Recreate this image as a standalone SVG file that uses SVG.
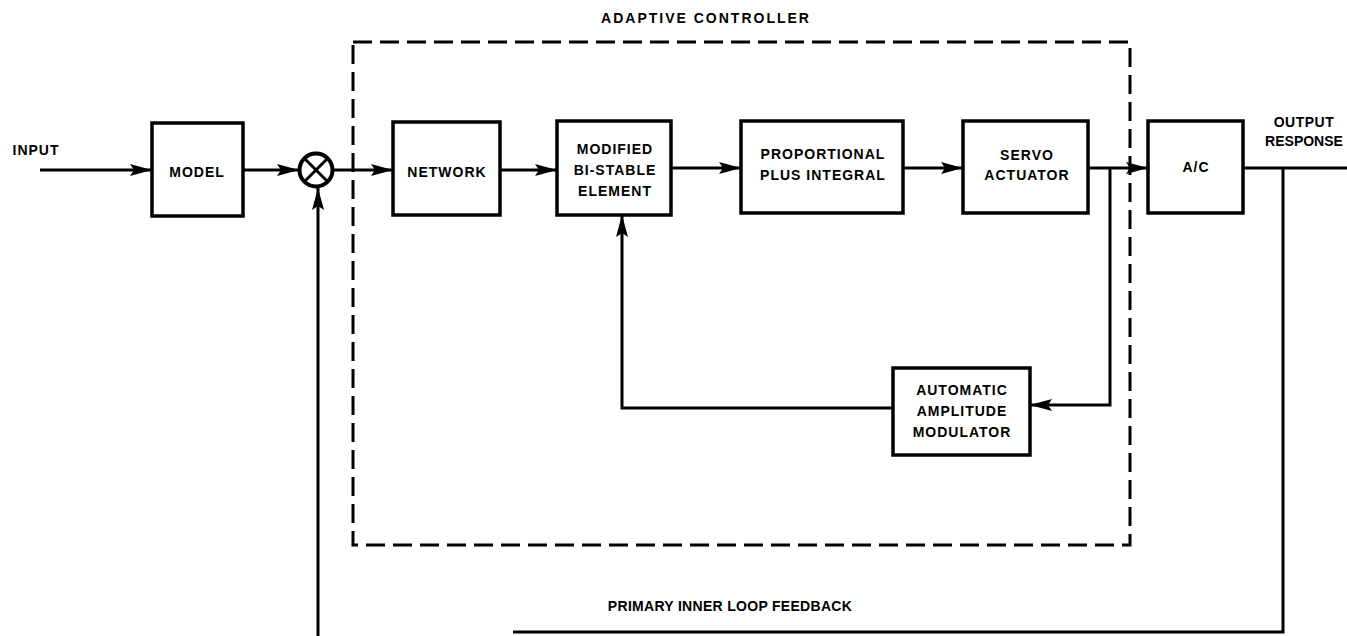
<svg xmlns="http://www.w3.org/2000/svg" width="1347" height="636" viewBox="0 0 1347 636">
  <style>
    .blk { fill: #fff; stroke: #000; stroke-width: 3.5; }
    .ln { fill: none; stroke: #000; stroke-width: 3; }
    .dash { fill: none; stroke: #000; stroke-width: 3; stroke-dasharray: 19 8; }
    text { font-family: "Liberation Sans", Arial, sans-serif; font-weight: bold; font-size: 14px; letter-spacing: 1px; fill: #000; text-anchor: middle; }
  </style>
  <defs>
    <marker id="arr" markerWidth="24" markerHeight="14" refX="22" refY="7" orient="auto" markerUnits="userSpaceOnUse">
      <path d="M0,1 L22,7 L0,13 L4,7 Z" fill="#000"/>
    </marker>
  </defs>

  <rect width="1347" height="636" fill="#fff"/>

  <!-- adaptive controller boundary -->
  <g id="adaptive-controller">
    <rect class="dash" x="353" y="42" width="777" height="503"/>
    <text x="706" y="23" style="letter-spacing:2px">ADAPTIVE CONTROLLER</text>
  </g>

  <!-- signal paths -->
  <g id="connectors">
    <line class="ln" x1="40" y1="170" x2="152" y2="170" marker-end="url(#arr)"/>
    <line class="ln" x1="243" y1="170" x2="299" y2="170" marker-end="url(#arr)"/>
    <line class="ln" x1="333" y1="170" x2="393" y2="170" marker-end="url(#arr)"/>
    <line class="ln" x1="500" y1="170" x2="557" y2="170" marker-end="url(#arr)"/>
    <line class="ln" x1="671" y1="168" x2="741" y2="168" marker-end="url(#arr)"/>
    <line class="ln" x1="903" y1="168" x2="963" y2="168" marker-end="url(#arr)"/>
    <line class="ln" x1="1088" y1="168" x2="1148" y2="168" marker-end="url(#arr)"/>
    <line class="ln" x1="1243" y1="168" x2="1347" y2="168"/>
    <!-- amplitude modulation loop -->
    <polyline class="ln" points="1110,168 1110,405 1030,405" marker-end="url(#arr)"/>
    <polyline class="ln" points="893,408 622,408 622,215" marker-end="url(#arr)"/>
    <!-- primary inner loop feedback -->
    <polyline class="ln" points="1283,168 1283,632 513,632"/>
    <line class="ln" x1="318" y1="636" x2="318" y2="188" marker-end="url(#arr)"/>
  </g>

  <text x="36" y="155">INPUT</text>
  <text x="1304" y="127" style="letter-spacing:0.5px">OUTPUT</text>
  <text x="1304" y="146" style="letter-spacing:0">RESPONSE</text>
  <text x="730" y="611" style="letter-spacing:0.3px">PRIMARY INNER LOOP FEEDBACK</text>

  <g id="model">
    <rect class="blk" x="152" y="123" width="91" height="93"/>
    <text x="197" y="177">MODEL</text>
  </g>

  <g id="summing-junction">
    <circle cx="316" cy="170" r="16.5" fill="#fff" stroke="#000" stroke-width="4"/>
    <path class="ln" stroke-width="4" d="M304.5,158.5 L327.5,181.5 M327.5,158.5 L304.5,181.5"/>
  </g>

  <g id="network">
    <rect class="blk" x="393" y="122" width="107" height="93"/>
    <text x="447" y="177">NETWORK</text>
  </g>

  <g id="bistable">
    <rect class="blk" x="557" y="121" width="114" height="94"/>
    <text x="615" y="154">MODIFIED</text>
    <text x="615" y="175">BI-STABLE</text>
    <text x="615" y="196">ELEMENT</text>
  </g>

  <g id="prop-integral">
    <rect class="blk" x="741" y="121" width="162" height="92"/>
    <text x="823" y="159">PROPORTIONAL</text>
    <text x="823" y="180">PLUS INTEGRAL</text>
  </g>

  <g id="servo">
    <rect class="blk" x="963" y="121" width="125" height="92"/>
    <text x="1027" y="160">SERVO</text>
    <text x="1027" y="180">ACTUATOR</text>
  </g>

  <g id="aircraft">
    <rect class="blk" x="1148" y="121" width="95" height="92"/>
    <text x="1196" y="172">A/C</text>
  </g>

  <g id="amplitude-modulator">
    <rect class="blk" x="893" y="368" width="137" height="87"/>
    <text x="962" y="395">AUTOMATIC</text>
    <text x="962" y="416">AMPLITUDE</text>
    <text x="962" y="437">MODULATOR</text>
  </g>
</svg>
